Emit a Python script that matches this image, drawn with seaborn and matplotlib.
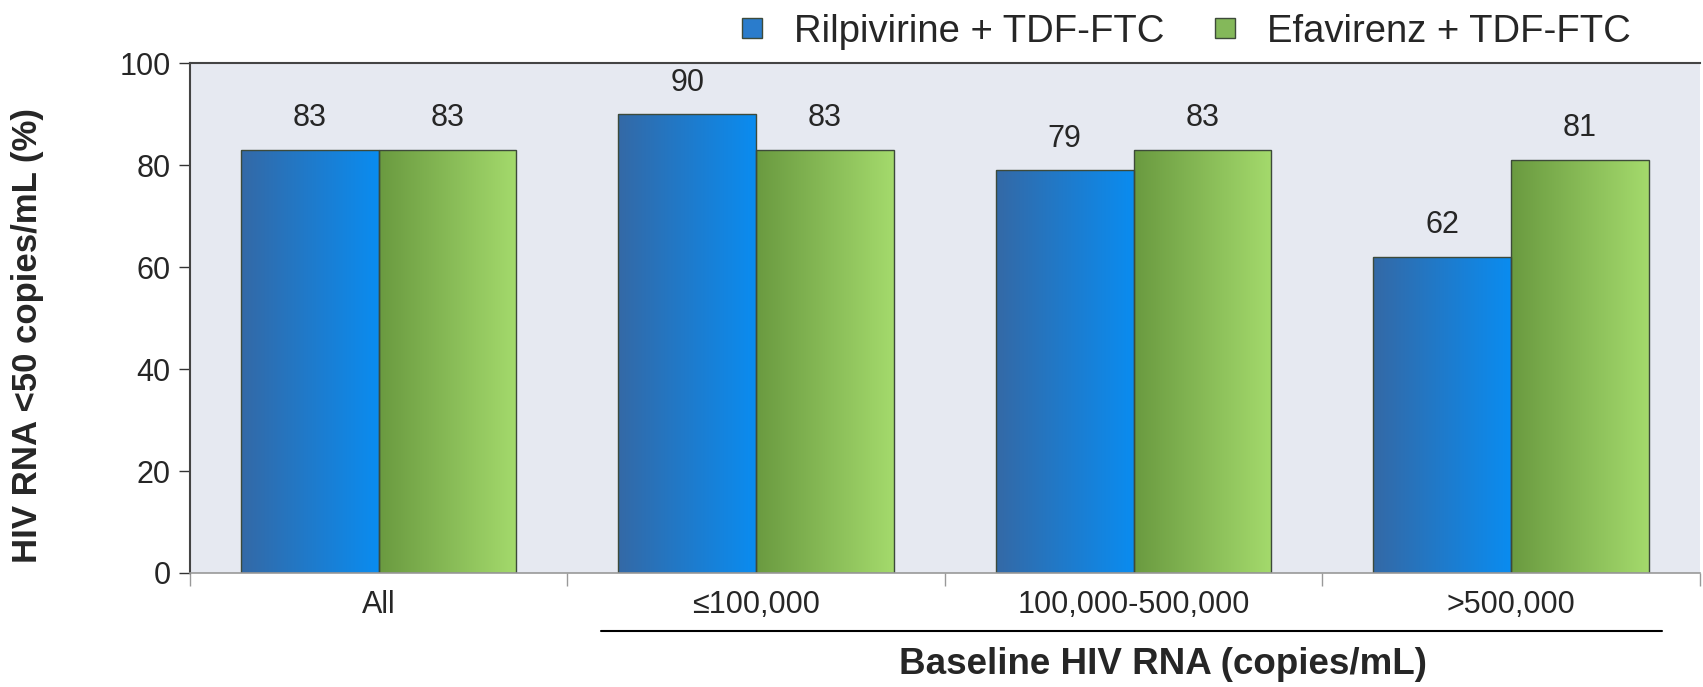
import matplotlib
matplotlib.use("Agg")
import matplotlib.pyplot as plt
from matplotlib.lines import Line2D
from matplotlib.colors import LinearSegmentedColormap
import numpy as np
import pandas as pd
import seaborn as sns

# data
groups = ["All", "≤100,000", "100,000-500,000", ">500,000"]
regimens = ["Rilpivirine + TDF-FTC", "Efavirenz + TDF-FTC"]
rilpivirine = [83, 90, 79, 62]
efavirenz = [83, 83, 83, 81]
y_ticks = [0, 20, 40, 60, 80, 100]

df = pd.DataFrame({
    "group": groups * 2,
    "regimen": [regimens[0]] * 4 + [regimens[1]] * 4,
    "value": rilpivirine + efavirenz,
})

blue_grad = ["#3469a6", "#0a8cf0"]
green_grad = ["#6a9a40", "#a4da6c"]

sns.set_style("white")
plt.rcParams["font.family"] = ["Liberation Sans", "DejaVu Sans"]

fig = plt.figure(figsize=(17.03, 6.87), dpi=100)
ax = fig.add_axes([0.1116, 0.166, 0.8864, 0.742])
ax.set_facecolor("#e6e9f1")

sns.barplot(data=df, x="group", y="value", hue="regimen", order=groups,
            hue_order=regimens, palette=[blue_grad[1], green_grad[1]],
            width=0.73, edgecolor="#3d4a3a", linewidth=1.0, legend=False, ax=ax)

# horizontal gradient fill clipped to each bar
for container, cols in zip(ax.containers, [blue_grad, green_grad]):
    cmap = LinearSegmentedColormap.from_list("g", cols)
    for bar in container:
        x0, y0 = bar.get_x(), bar.get_y()
        w, h = bar.get_width(), bar.get_height()
        im = ax.imshow(np.linspace(0, 1, 256).reshape(1, -1), cmap=cmap,
                       extent=[x0, x0 + w, y0, y0 + h], aspect="auto",
                       origin="lower", zorder=bar.get_zorder() - 0.1)
        im.set_clip_path(bar)
        bar.set_facecolor("none")
    ax.bar_label(container, fmt="%d", padding=12, fontsize=22)

ax.set_xlim(-0.5, 3.5)
ax.set_ylim(0, 100)
ax.set_yticks(y_ticks)
ax.tick_params(axis="y", labelsize=22, length=8, width=1, color="#333333",
               direction="out", pad=6, left=True)
ax.set_xticks(range(4))
ax.set_xticklabels(groups)
ax.tick_params(axis="x", labelsize=22, length=0, pad=12)
ax.set_xticks([-0.5, 0.5, 1.5, 2.5, 3.5], minor=True)
ax.tick_params(axis="x", which="minor", length=9, width=1, color="#999999",
               bottom=True, direction="out")

for side in ["left", "top"]:
    ax.spines[side].set_color("#444444")
    ax.spines[side].set_linewidth(1.5)
ax.spines["bottom"].set_color("#999999")
ax.spines["bottom"].set_linewidth(1.2)
ax.spines["right"].set_visible(False)

ax.set_xlabel("")
ax.set_ylabel("HIV RNA <50 copies/mL (%)", fontsize=25, fontweight="bold")
ax.yaxis.set_label_coords(-0.097, 0.465)

# bracket under the baseline RNA groups
ax.plot([0.59, 3.40], [-0.113, -0.113], color="black", lw=1.5,
        transform=ax.get_xaxis_transform(), clip_on=False)
ax.text(2.078, -0.179, "Baseline HIV RNA (copies/mL)", fontsize=26.5,
        fontweight="bold", ha="center", va="center",
        transform=ax.get_xaxis_transform())

handles = [Line2D([], [], marker="s", ls="", markersize=15,
                  markerfacecolor=c, markeredgecolor="#3d4a3a")
           for c in ["#2a7ccc", "#84b85a"]]
fig.legend(handles, regimens, loc="upper right", bbox_to_anchor=(0.978, 1.03),
           ncol=2, frameon=False, fontsize=27.5, handletextpad=0.1,
           columnspacing=0.6)

fig.savefig("out.png", dpi=100)
